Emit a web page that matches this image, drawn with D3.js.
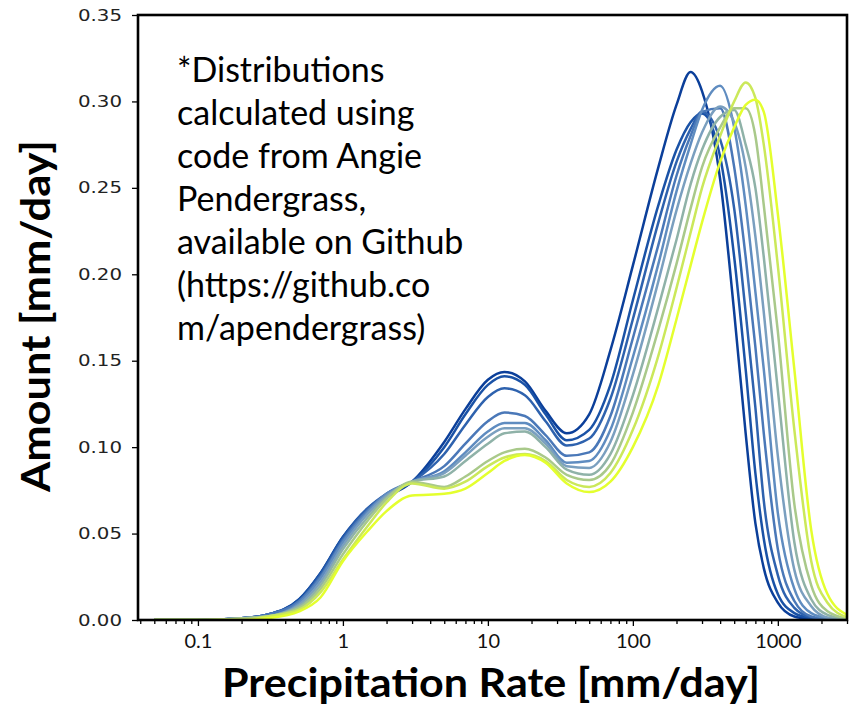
<html>
<head>
<script src="https://d3js.org/d3.v7.min.js"></script>
<style>
  body { margin: 0; background: #fff; }
  svg { display: block; }
  .note { font-family: Lato, "Open Sans", sans-serif; font-size: 34px; fill: #000; }
  .title { font-family: Lato, "Open Sans", sans-serif; font-weight: 700; font-size: 40px; fill: #000; }
</style>
</head>
<body>
<svg id="chart" width="855" height="705"></svg>
<script>
// precipitation rate bins [mm/day]
const rates = [0.05, 0.1, 0.2, 0.3, 0.5, 0.7, 1, 1.5, 2, 3, 5, 7, 10, 13, 18, 25, 35, 50, 70, 100,
               150, 200, 250, 300, 400, 500, 600, 700, 800, 1000, 1300, 1700, 2200, 3000];

// rain amount distributions, dark blue -> yellow
const amount0 = [0, 0, 0.001, 0.003, 0.012, 0.027, 0.048, 0.064, 0.071, 0.080, 0.103, 0.122, 0.139, 0.1435, 0.138, 0.121, 0.108, 0.119, 0.156, 0.205,
                 0.262, 0.298, 0.317, 0.306, 0.255, 0.178, 0.108, 0.056, 0.030, 0.010, 0.002, 0.0005, 0, 0];
const amount1 = [0, 0, 0.001, 0.003, 0.012, 0.027, 0.048, 0.065, 0.072, 0.080, 0.100, 0.119, 0.136, 0.141, 0.136, 0.119, 0.104, 0.110, 0.136, 0.185,
                 0.240, 0.272, 0.288, 0.293, 0.268, 0.210, 0.145, 0.085, 0.047, 0.015, 0.004, 0.001, 0, 0];
const amount2 = [0, 0, 0.001, 0.003, 0.011, 0.026, 0.047, 0.065, 0.073, 0.080, 0.096, 0.113, 0.129, 0.134, 0.130, 0.115, 0.101, 0.105, 0.128, 0.174,
                 0.230, 0.265, 0.284, 0.294, 0.278, 0.238, 0.178, 0.123, 0.069, 0.026, 0.007, 0.0015, 0.0003, 0];
const amount3 = [0, 0, 0.001, 0.003, 0.011, 0.025, 0.046, 0.064, 0.073, 0.080, 0.089, 0.102, 0.115, 0.120, 0.118, 0.107, 0.095, 0.097, 0.118, 0.163,
                 0.217, 0.257, 0.280, 0.294, 0.296, 0.262, 0.210, 0.158, 0.108, 0.041, 0.011, 0.002, 0.0005, 0];
const amount4 = [0, 0, 0.001, 0.002, 0.010, 0.024, 0.045, 0.063, 0.073, 0.080, 0.086, 0.097, 0.109, 0.114, 0.114, 0.104, 0.091, 0.092, 0.110, 0.152,
                 0.206, 0.248, 0.275, 0.295, 0.309, 0.285, 0.240, 0.190, 0.145, 0.062, 0.018, 0.004, 0.001, 0];
const amount5 = [0, 0, 0.001, 0.002, 0.009, 0.022, 0.043, 0.062, 0.072, 0.080, 0.085, 0.095, 0.106, 0.111, 0.111, 0.102, 0.089, 0.088, 0.103, 0.142,
                 0.196, 0.237, 0.264, 0.282, 0.297, 0.288, 0.262, 0.222, 0.178, 0.095, 0.029, 0.008, 0.0015, 0.0002];
const amount6 = [0, 0, 0.001, 0.002, 0.008, 0.020, 0.041, 0.060, 0.071, 0.080, 0.083, 0.092, 0.102, 0.108, 0.109, 0.100, 0.087, 0.084, 0.096, 0.130,
                 0.181, 0.220, 0.252, 0.272, 0.291, 0.295, 0.275, 0.250, 0.210, 0.133, 0.045, 0.012, 0.003, 0.0005];
const amount7 = [0, 0, 0.001, 0.002, 0.007, 0.018, 0.038, 0.058, 0.070, 0.080, 0.077, 0.083, 0.092, 0.097, 0.099, 0.094, 0.084, 0.081, 0.090, 0.120,
                 0.168, 0.206, 0.238, 0.262, 0.285, 0.296, 0.296, 0.280, 0.240, 0.167, 0.067, 0.020, 0.005, 0.0008];
const amount8 = [0, 0, 0, 0.002, 0.006, 0.016, 0.035, 0.055, 0.068, 0.079, 0.076, 0.080, 0.089, 0.094, 0.096, 0.092, 0.081, 0.077, 0.085, 0.110,
                 0.153, 0.192, 0.224, 0.250, 0.280, 0.300, 0.311, 0.302, 0.275, 0.205, 0.110, 0.034, 0.010, 0.0015];
const amount9 = [0, 0, 0, 0.001, 0.005, 0.013, 0.034, 0.052, 0.063, 0.072, 0.073, 0.076, 0.085, 0.092, 0.0955, 0.091, 0.079, 0.074, 0.080, 0.100,
                 0.136, 0.174, 0.205, 0.230, 0.265, 0.285, 0.298, 0.301, 0.294, 0.235, 0.145, 0.052, 0.015, 0.003];

const series = [amount0, amount1, amount2, amount3, amount4, amount5, amount6, amount7, amount8, amount9];
const lineColors = ["#0b3f9a", "#1a52a6", "#2e62ae", "#4a78b8", "#5f8cc0",
                    "#7a9fbf", "#8fb2a8", "#a9c98a", "#cbe85a", "#e4ff2e"];

const yTicks = [0, 0.05, 0.10, 0.15, 0.20, 0.25, 0.30, 0.35];
const xTicks = [0.1, 1, 10, 100, 1000];
const xTickLabels = ["0.1", "1", "10", "100", "1000"];

const noteLines = ["*Distributions", "calculated using", "code from Angie", "Pendergrass,",
                   "available on Github", "(https://github.co", "m/apendergrass)"];

const svg = d3.select("#chart");
svg.append("rect").attr("width", 855).attr("height", 705).attr("fill", "#fff");

const x = d3.scaleLog().domain([0.0386, 3000]).range([138, 847]);
const y = d3.scaleLinear().domain([0, 0.35]).range([620, 15]);

svg.append("defs").append("clipPath").attr("id", "plotClip")
  .append("rect").attr("x", 138).attr("y", 15).attr("width", 709).attr("height", 605);

// curves
const line = d3.line()
  .x((d, i) => x(rates[i]))
  .y(d => y(d))
  .curve(d3.curveMonotoneX);

svg.append("g").attr("clip-path", "url(#plotClip)")
  .selectAll("path")
  .data(series)
  .join("path")
  .attr("d", line)
  .attr("fill", "none")
  .attr("stroke", (d, i) => lineColors[i])
  .attr("stroke-width", 2.5)
  .attr("stroke-linejoin", "round");

// minor x ticks
const minor = [];
[0.01, 0.1, 1, 10, 100, 1000].forEach(dec => {
  for (let k = 2; k <= 9; k++) {
    const v = dec * k;
    if (v >= 0.0386 && v <= 3001) minor.push(v);
  }
});

const xMinorAxis = svg.append("g").attr("transform", "translate(0,620)")
  .call(d3.axisBottom(x).tickValues(minor).tickSize(4).tickFormat(""));
xMinorAxis.select(".domain").remove();
xMinorAxis.selectAll("line").attr("stroke", "#000").attr("stroke-width", 1.3);

const xAxis = svg.append("g").attr("transform", "translate(0,620)")
  .call(d3.axisBottom(x).tickValues(xTicks).tickSize(6).tickPadding(8)
    .tickFormat((d, i) => xTickLabels[i]));
xAxis.select(".domain").remove();
xAxis.selectAll("line").attr("stroke", "#000").attr("stroke-width", 1.3);
xAxis.selectAll("text")
  .attr("font-family", "Lato, 'Open Sans', sans-serif")
  .attr("font-size", 20)
  .attr("fill", "#111");

const yAxis = svg.append("g").attr("transform", "translate(138,0)")
  .call(d3.axisLeft(y).tickValues(yTicks).tickSize(6).tickPadding(10)
    .tickFormat(d3.format(".2f")));
yAxis.select(".domain").remove();
yAxis.selectAll("line").attr("stroke", "#000").attr("stroke-width", 1.3);
yAxis.selectAll("text")
  .attr("font-family", "'DejaVu Sans', sans-serif")
  .attr("font-size", 16)
  .attr("fill", "#222")
  .attr("textLength", 44)
  .attr("lengthAdjust", "spacingAndGlyphs");

// frame
svg.append("rect")
  .attr("x", 138).attr("y", 15).attr("width", 709).attr("height", 605)
  .attr("fill", "none").attr("stroke", "#000").attr("stroke-width", 2.6);

// note
svg.append("g").selectAll("text")
  .data(noteLines)
  .join("text")
  .attr("class", "note")
  .attr("x", 177)
  .attr("y", (d, i) => 82 + i * 43)
  .text(d => d);

// axis titles
svg.append("text")
  .attr("class", "title")
  .attr("x", 491).attr("y", 697)
  .attr("text-anchor", "middle")
  .attr("textLength", 538)
  .attr("lengthAdjust", "spacingAndGlyphs")
  .text("Precipitation Rate [mm/day]");

svg.append("text")
  .attr("class", "title")
  .attr("transform", "translate(50,316) rotate(-90)")
  .attr("text-anchor", "middle")
  .attr("textLength", 352)
  .attr("lengthAdjust", "spacingAndGlyphs")
  .text("Amount [mm/day]");
</script>
</body>
</html>
